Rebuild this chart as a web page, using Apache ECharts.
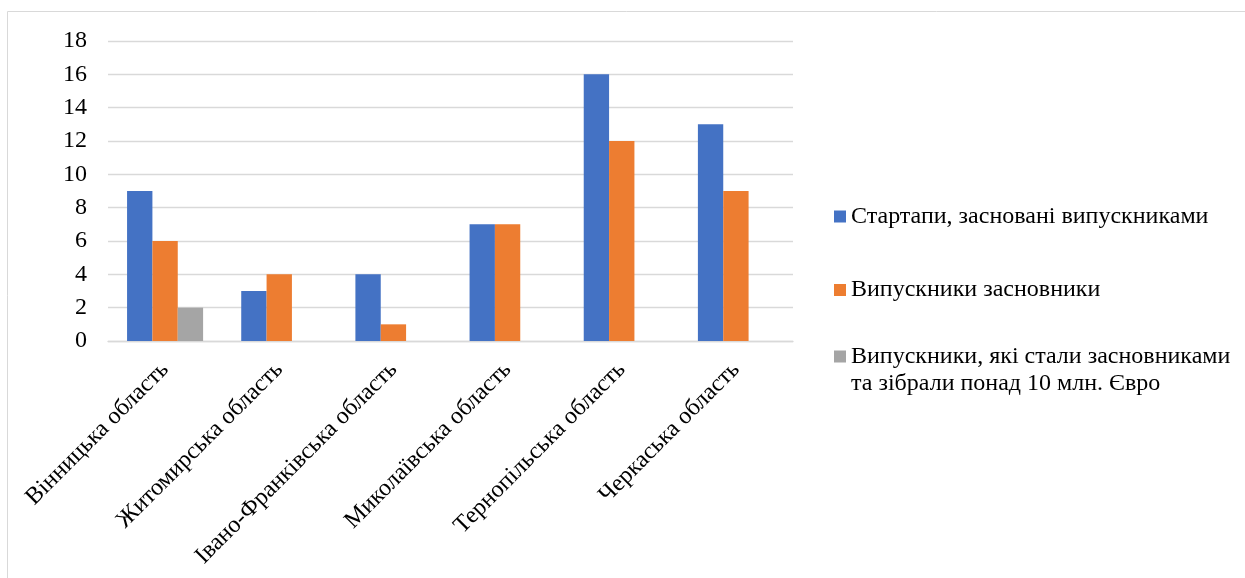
<!DOCTYPE html>
<html>
<head>
<meta charset="utf-8">
<script src="https://cdn.jsdelivr.net/npm/echarts@6/dist/echarts.min.js"></script>
<style>
  html, body { margin: 0; padding: 0; background: #fff; }
  #chart { width: 1245px; height: 578px; }
</style>
</head>
<body>
<div id="chart"></div>
<script>
// Regions (categories)
const regions = [
  'Вінницька область',
  'Житомирська область',
  'Івано-Франківська область',
  'Миколаївська область',
  'Тернопільська область',
  'Черкаська область'
];

// Series names
const seriesNames = [
  'Стартапи, засновані випускниками',
  'Випускники засновники',
  'Випускники, які стали засновниками\nта зібрали понад 10 млн. Євро'
];

// Series values
const startups = [9, 3, 4, 7, 16, 13];
const founders = [6, 4, 1, 7, 12, 9];
const bigFounders = [2, null, null, null, null, null];

// Value axis ticks
const yMin = 0;
const yMax = 18;
const yStep = 2;

const colors = ['#4472C4', '#ED7D31', '#A5A5A5'];
const serif = 'Times New Roman';
const fontSize = 24;

const chart = echarts.init(document.getElementById('chart'));

// One legend box per series so each entry can be placed on its own row;
// a leading blank line keeps the marker level with the first line of a
// two-line name.
function legendBox(name, top, leadBlank) {
  return {
    orient: 'vertical',
    left: 834,
    top: top,
    padding: 0,
    itemWidth: 12,
    itemHeight: 12,
    icon: 'rect',
    selectedMode: false,
    data: [name],
    formatter: n => (leadBlank ? '\n' + n : n),
    textStyle: { fontFamily: serif, fontSize: fontSize, color: '#000', lineHeight: 27 }
  };
}

chart.setOption({
  animation: false,
  color: colors,
  graphic: [{
    type: 'rect',
    silent: true,
    shape: { x: 7.5, y: 11.5, width: 1400, height: 800 },
    style: { fill: 'none', stroke: '#d9d9d9', lineWidth: 1 }
  }],
  grid: {
    left: 108,
    right: 452,
    top: 41,
    bottom: 237,
    outerBoundsMode: 'none',
    containLabel: false
  },
  legend: [
    legendBox(seriesNames[0], 203, false),
    legendBox(seriesNames[1], 276.5, false),
    legendBox(seriesNames[2], 316, true)
  ],
  xAxis: {
    type: 'category',
    data: regions,
    axisTick: { show: false },
    axisLine: { show: true, lineStyle: { color: '#d9d9d9', width: 1.3 } },
    axisLabel: {
      rotate: 45,
      interval: 0,
      margin: 25,
      fontFamily: serif,
      fontSize: fontSize,
      color: '#000'
    }
  },
  yAxis: {
    type: 'value',
    min: yMin,
    max: yMax,
    interval: yStep,
    axisLine: { show: false },
    axisTick: { show: false },
    axisLabel: {
      margin: 21,
      fontFamily: serif,
      fontSize: fontSize,
      color: '#000'
    },
    splitLine: { lineStyle: { color: '#d9d9d9', width: 1.3 } }
  },
  series: [
    { name: seriesNames[0], type: 'bar', data: startups, barGap: '0%', barCategoryGap: '33.4%' },
    { name: seriesNames[1], type: 'bar', data: founders, barGap: '0%', barCategoryGap: '33.4%' },
    { name: seriesNames[2], type: 'bar', data: bigFounders, barGap: '0%', barCategoryGap: '33.4%' }
  ]
});
</script>
</body>
</html>
